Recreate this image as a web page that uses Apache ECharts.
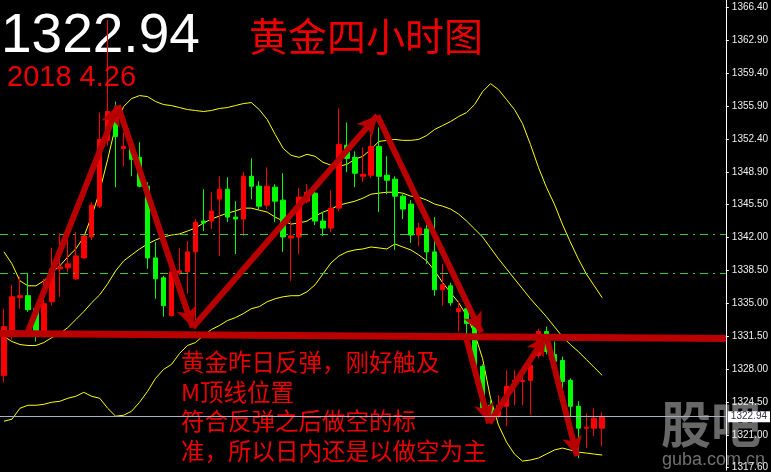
<!DOCTYPE html>
<html><head><meta charset="utf-8">
<script src="https://cdn.jsdelivr.net/npm/echarts/dist/echarts.min.js"></script>
<style>html,body{margin:0;padding:0;background:#000;}#c{width:771px;height:472px;}</style>
</head><body><div id="c"></div>
<script>
// ---- data (4-hour gold candles, prices) ----
const opens = [1327.32,1331.44,1335.56,1335.77,1334.39,1331.97,1335.13,1338.62,1338.73,1337.56,
1339.78,1342.00,1345.27,1352.25,1354.46,1351.40,1351.61,1350.45,1347.39,1339.78,
1337.67,1333.66,1338.20,1338.30,1340.42,1343.69,1343.69,1346.01,1347.07,1344.11,
1343.90,1348.44,1347.39,1345.38,1347.28,1345.91,1341.89,1342.00,1345.80,1346.65,
1343.69,1342.95,1345.06,1351.72,1350.45,1348.44,1348.55,1351.61,1348.55,1348.13,
1346.33,1345.49,1342.21,1342.85,1340.42,1336.40,1336.82,1334.08,1334.39,1332.81,
1328.27,1324.15,1322.99,1324.04,1326.68,1326.68,1326.79,1329.43,1331.97,1329.54,
1328.90,1326.79,1324.04,1321.72,1321.72,1321.72];
const closes = [1332.49,1335.66,1335.77,1334.29,1331.97,1334.92,1338.62,1338.83,1339.15,1339.99,
1342.11,1345.38,1352.35,1355.31,1352.67,1351.61,1350.24,1347.39,1339.78,1337.56,
1334.71,1338.30,1338.41,1340.42,1343.58,1343.48,1344.75,1347.07,1344.11,1343.90,
1348.44,1347.39,1345.27,1347.39,1345.80,1342.00,1342.11,1346.23,1346.75,1343.69,
1342.95,1345.06,1351.82,1350.34,1348.76,1348.65,1351.61,1348.44,1348.02,1346.33,
1344.96,1342.21,1342.95,1340.42,1336.40,1336.93,1335.03,1334.39,1332.81,1328.06,
1323.83,1323.09,1324.15,1326.16,1326.79,1326.79,1328.37,1331.97,1329.85,1328.80,
1326.68,1324.04,1321.72,1321.82,1322.78,1322.94];
const lows = [1326.58,1331.12,1334.39,1334.08,1330.91,1331.44,1334.71,1335.66,1338.30,1337.46,
1339.68,1341.68,1345.06,1351.72,1347.28,1349.50,1348.44,1347.28,1338.62,1335.45,
1333.55,1333.55,1337.99,1335.98,1332.28,1342.63,1342.85,1339.99,1343.58,1340.20,
1342.11,1346.01,1344.96,1344.96,1343.58,1340.42,1337.35,1340.20,1345.59,1343.27,
1342.11,1342.53,1344.75,1348.87,1347.28,1347.81,1348.23,1344.64,1346.54,1340.63,
1343.90,1341.37,1341.05,1339.15,1335.77,1334.71,1334.71,1331.97,1331.54,1327.85,
1323.09,1322.78,1322.78,1321.93,1324.15,1324.15,1323.09,1329.11,1329.54,1328.59,
1325.21,1322.99,1318.55,1319.61,1320.87,1319.82];
const highs = [1334.39,1336.93,1337.78,1338.20,1334.71,1337.56,1340.84,1342.42,1342.32,1342.53,
1342.32,1345.70,1355.20,1365.03,1356.37,1353.09,1352.14,1352.04,1347.81,1341.47,
1337.88,1338.41,1340.84,1341.58,1343.90,1347.07,1346.75,1348.44,1348.34,1345.80,
1348.87,1350.34,1347.92,1349.39,1347.60,1348.76,1343.69,1347.18,1347.60,1347.07,
1344.64,1346.96,1355.63,1354.15,1351.08,1351.51,1352.88,1353.62,1350.56,1348.44,
1346.54,1345.91,1343.48,1344.22,1344.11,1339.15,1337.14,1335.24,1335.24,1333.55,
1328.48,1324.68,1325.21,1327.85,1327.85,1328.27,1329.43,1332.28,1332.49,1330.91,
1329.32,1327.00,1324.57,1323.30,1323.83,1323.41];
// Bollinger bands
const upperBand = [1340.42,1339.15,1337.35,1336.82,1336.82,1337.35,1338.20,1338.94,1339.89,1340.73,
1342.00,1344.22,1346.86,1350.24,1353.83,1355.84,1356.68,1357.00,1356.89,1356.37,
1356.05,1355.94,1355.73,1355.52,1355.42,1355.31,1355.42,1355.63,1355.73,1355.94,
1356.15,1356.26,1355.52,1354.46,1352.88,1351.40,1350.66,1350.45,1350.77,1350.56,
1349.92,1349.61,1349.50,1349.71,1350.24,1350.56,1351.30,1352.14,1352.25,1352.35,
1352.25,1352.25,1352.35,1352.77,1353.41,1353.83,1354.25,1354.78,1355.20,1356.05,
1357.42,1358.27,1357.63,1356.58,1355.52,1354.04,1351.82,1349.39,1347.28,1345.49,
1343.37,1341.47,1339.68,1338.09,1336.82,1335.56];
const middleBand = [1331.44,1330.91,1330.59,1330.49,1330.49,1330.80,1331.33,1331.75,1332.39,1333.23,
1334.08,1335.03,1335.87,1337.04,1338.41,1339.46,1340.10,1340.73,1341.26,1341.68,
1342.00,1342.21,1342.32,1342.63,1342.95,1343.48,1343.90,1344.22,1344.53,1344.75,
1345.06,1345.06,1344.85,1344.64,1344.11,1343.69,1343.37,1343.48,1343.69,1344.22,
1344.64,1344.96,1345.38,1345.59,1345.80,1346.12,1346.54,1346.65,1346.75,1346.75,
1346.65,1346.33,1346.23,1345.91,1345.49,1345.27,1344.96,1344.43,1343.69,1342.85,
1342.00,1340.84,1339.68,1338.62,1337.56,1336.51,1335.45,1334.50,1333.55,1332.49,
1331.44,1330.59,1329.85,1329.01,1328.16,1327.32];
const lowerBand = [1322.46,1322.67,1323.83,1324.15,1324.15,1324.25,1324.47,1324.57,1324.89,1325.10,
1325.52,1325.10,1324.89,1323.83,1322.99,1323.09,1323.52,1324.47,1325.63,1327.00,
1327.95,1328.48,1329.64,1330.49,1330.80,1331.54,1332.18,1332.60,1333.13,1333.44,
1333.87,1334.39,1334.61,1335.13,1335.45,1335.66,1335.77,1335.77,1336.19,1336.93,
1338.09,1339.25,1339.99,1340.42,1340.63,1340.73,1340.94,1340.84,1340.73,1341.26,
1340.94,1340.63,1340.10,1339.46,1338.41,1337.14,1336.08,1335.03,1333.66,1331.75,
1329.11,1324.89,1322.04,1320.24,1318.97,1318.23,1318.34,1318.55,1318.97,1319.40,
1319.61,1319.40,1319.18,1319.08,1318.97,1318.87];
// y-axis tick labels
const tickValues = [1366.40,1362.90,1359.40,1355.90,1352.40,1348.90,1345.50,1342.00,1338.50,1335.00,1331.50,1328.00,1324.50,1321.00,1317.60];
// hand-drawn annotations (bar index, price)
const mPatternX = [3.0, 14.27, 23.66, 46.81, 59.83];
const mPatternY = [1331.97, 1355.94, 1332.39, 1354.89, 1331.86];
const reboundX = [57.96, 60.83, 67.97, 71.85];
const reboundY = [1331.23, 1322.25, 1331.54, 1318.76];
const necklineX = [-0.5, 90.5];
const necklineY = [1331.76, 1331.22];
const levelLines = [1342.32, 1338.20];
const lastPrice = 1322.94;
const slotCount = 91;
const slots = Array.from({length: slotCount}, (_, i) => String(i + 1));
const noteLines = ['黄金昨日反弹，刚好触及', 'M顶线位置', '符合反弹之后做空的标', '准，所以日内还是以做空为主'];

const ohlc = opens.map((o, i) => [o, closes[i], lows[i], highs[i]]);
function arrows(xs, ys) {
  const out = [];
  for (let i = 0; i < xs.length - 1; i++) out.push([{coord: [xs[i], ys[i]]}, {coord: [xs[i + 1], ys[i + 1]]}]);
  return out;
}
const arrowData = arrows(mPatternX, mPatternY).concat(arrows(reboundX, reboundY));
arrowData.push([
  {coord: [necklineX[0], necklineY[0]], symbol: 'none', lineStyle: {width: 7, color: '#bb0000'}},
  {coord: [necklineX[1], necklineY[1]], symbol: 'none', lineStyle: {width: 7, color: '#bb0000'}}
]);

const chart = echarts.init(document.getElementById('c'), null, {renderer: 'canvas'});
const red = '#ee0000';
const cjk = '"Noto Sans CJK SC", sans-serif';
const graphic = [
  {type: 'text', x: 1, y: 37, z: 1, style: {text: lastPrice.toFixed(2), font: '55px "Liberation Sans", Arial, sans-serif', fill: '#ffffff', align: 'left', verticalAlign: 'middle'}},
  {type: 'text', x: 7, y: 78, z: 1, style: {text: '2018 4.26', font: '29px "Liberation Sans", Arial, sans-serif', fill: red, align: 'left', verticalAlign: 'middle'}},
  {type: 'text', x: 249, y: 36, z: 1, style: {text: '黄金四小时图', font: '39px ' + cjk, fill: red, align: 'left', verticalAlign: 'middle'}},
  {type: 'text', x: 661, y: 424, z: 1, style: {text: '股吧', font: 'bold 50px ' + cjk, fill: 'rgba(115,115,115,0.9)', align: 'left', verticalAlign: 'middle'}},
  {type: 'text', x: 662, y: 460, z: 1, style: {text: 'guba.com.cn', font: '18px "Liberation Sans", Arial, sans-serif', fill: '#707070', align: 'left', verticalAlign: 'middle'}}
];
noteLines.forEach((t, i) => graphic.push({type: 'text', x: 181, y: 362 + i * 29.7, z: 4,
  style: {text: t, font: '23.5px ' + cjk, fill: red, align: 'left', verticalAlign: 'middle'}}));

chart.setOption({
  backgroundColor: '#000000',
  animation: false,
  grid: {left: 0, right: 44, top: 0, bottom: 0},
  xAxis: [
    {type: 'category', data: slots, boundaryGap: true, show: false},
    {type: 'value', min: -0.5, max: slotCount - 0.5, show: false}
  ],
  yAxis: {
    type: 'value', position: 'right', min: 1317.28, max: 1367.14, z: 6,
    axisLine: {show: true, onZero: false, lineStyle: {color: '#ffffff', width: 1}},
    axisTick: {show: true, length: 3, inside: false, lineStyle: {color: '#ffffff'}, customValues: tickValues},
    axisLabel: {color: '#eeeeee', fontSize: 10, fontFamily: '"Liberation Sans", Arial, sans-serif', margin: 6, customValues: tickValues, formatter: v => v.toFixed(2)},
    splitLine: {show: false}
  },
  graphic: graphic,
  series: [
    {type: 'candlestick', xAxisIndex: 0, data: ohlc, barWidth: 5, z: 2,
      itemStyle: {color: '#ff0000', color0: '#00ff00', borderColor: '#ff0000', borderColor0: '#00ff00', borderWidth: 1}},
    {type: 'line', xAxisIndex: 0, data: upperBand, symbol: 'none', z: 2, lineStyle: {color: '#ffff00', width: 1}},
    {type: 'line', xAxisIndex: 0, data: middleBand, symbol: 'none', z: 2, lineStyle: {color: '#ffff00', width: 1}},
    {type: 'line', xAxisIndex: 0, data: lowerBand, symbol: 'none', z: 2, lineStyle: {color: '#ffff00', width: 1}},
    {type: 'line', xAxisIndex: 0, data: [], z: 1,
      markLine: {silent: true, symbol: ['none', 'none'], label: {show: false},
        lineStyle: {color: '#33cc33', width: 1, type: [8, 5, 2, 5]},
        data: levelLines.map(v => ({yAxis: v}))}},
    {type: 'line', xAxisIndex: 1, data: [], z: 3,
      markLine: {silent: true, symbol: ['none', 'arrow'], symbolSize: [15, 20], label: {show: false},
        lineStyle: {color: '#b80000', width: 6, type: 'solid', opacity: 1},
        data: arrowData}},
    {type: 'line', xAxisIndex: 0, data: [], z: 5,
      markLine: {silent: true, symbol: ['none', 'none'],
        lineStyle: {color: '#a8b4c4', width: 1, type: 'solid'},
        label: {show: true, position: 'end', distance: 2, formatter: lastPrice.toFixed(2), backgroundColor: '#ffffff',
          color: '#303048', fontSize: 10, fontFamily: '"Liberation Sans", Arial, sans-serif', padding: [1, 3, 0, 3]},
        data: [{yAxis: lastPrice}]}}
  ]
});
</script></body></html>
